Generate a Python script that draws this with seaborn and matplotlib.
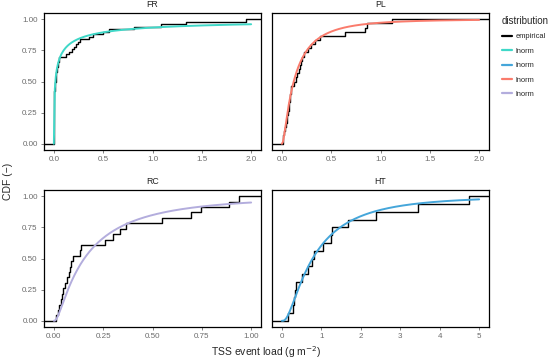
import numpy as np
import pandas as pd
import seaborn as sns
import matplotlib.pyplot as plt
from matplotlib.lines import Line2D
from math import erf, sqrt

# TSS event loads (g m-2)
fr_load = [0.0002, 0.0004, 0.0005, 0.0008, 0.001, 0.0012, 0.0013, 0.0015, 0.0018, 0.002,
           0.0021, 0.0024, 0.0026, 0.0028, 0.003, 0.0032, 0.0035, 0.0037, 0.004, 0.0043,
           0.005, 0.007, 0.009, 0.011, 0.014, 0.017, 0.02, 0.023, 0.026, 0.03,
           0.034, 0.038, 0.043, 0.048, 0.054, 0.12, 0.15, 0.18, 0.20, 0.225,
           0.24, 0.26, 0.36, 0.40, 0.50, 0.56, 0.81, 1.09, 1.34, 1.95]
pl_load = [0.008, 0.015, 0.024, 0.032, 0.04, 0.048, 0.056, 0.065, 0.07, 0.075,
           0.08, 0.085, 0.09, 0.093, 0.12, 0.14, 0.155, 0.17, 0.18, 0.19,
           0.2, 0.225, 0.26, 0.3, 0.34, 0.385, 0.64, 0.84, 0.86, 1.116]
rc_load = [0.013, 0.020, 0.027, 0.034, 0.041, 0.047, 0.058, 0.068, 0.075, 0.081,
           0.088, 0.097, 0.135, 0.137, 0.258, 0.30, 0.334, 0.368, 0.547, 0.695,
           0.747, 0.886, 0.94]
ht_load = [0.16, 0.28, 0.31, 0.34, 0.36, 0.52, 0.67, 0.77, 0.82, 1.05,
           1.24, 1.26, 1.67, 2.39, 3.44, 4.75]

sites = ["FR", "PL", "RC", "HT"]
loads = {"FR": fr_load, "PL": pl_load, "RC": rc_load, "HT": ht_load}
x_max = {"FR": 2.0, "PL": 2.0, "RC": 1.0, "HT": 5.0}

# fitted lognormal parameters
meanlog = {"FR": -4.2, "PL": -2.12, "RC": -1.87, "HT": -0.25}
sdlog = {"FR": 2.8, "PL": 1.11, "RC": 1.14, "HT": 0.95}

ticks = {"FR": [0, 0.5, 1.0, 1.5, 2.0], "PL": [0, 0.5, 1.0, 1.5, 2.0],
         "RC": [0, 0.25, 0.5, 0.75, 1.0], "HT": [0, 1, 2, 3, 4, 5]}
tick_fmt = {"FR": "{:.1f}", "PL": "{:.1f}", "RC": "{:.2f}", "HT": "{:.0f}"}
colors = {"FR": "#3fd8c8", "HT": "#45a6da", "PL": "#fa7b6c", "RC": "#b3addd"}


def lnorm_cdf(x, mu, s):
    out = []
    for v in x:
        if v <= 0:
            out.append(0.0)
        else:
            out.append(0.5 * (1 + erf((np.log(v) - mu) / (s * sqrt(2)))))
    return np.array(out)


sns.set_style("white")
plt.rcParams["font.family"] = ["Liberation Sans", "DejaVu Sans"]

fig = plt.figure(figsize=(5.5, 3.62), dpi=100)
W, H = 550, 362
boxes = {"FR": (44, 13), "PL": (272, 13), "RC": (44, 190), "HT": (272, 190)}
pw, ph = 217, 137

tick_col = "#6b6b6b"
for site in sites:
    x0, y0 = boxes[site]
    ax = fig.add_axes([x0 / W, 1 - (y0 + ph) / H, pw / W, ph / H])
    xm = x_max[site]
    lo, hi = -0.05 * xm, 1.05 * xm

    data = np.array(loads[site])
    sns.ecdfplot(x=data, ax=ax, color="black", lw=1.0, zorder=2)
    ax.hlines(0, lo, data.min(), color="black", lw=1.0, zorder=2)
    ax.hlines(1, data.max(), hi, color="black", lw=1.0, zorder=2)

    grid = np.linspace(0, xm, 201)
    curve = pd.DataFrame({"x": grid, "F": lnorm_cdf(grid, meanlog[site], sdlog[site])})
    sns.lineplot(data=curve, x="x", y="F", ax=ax, color=colors[site], lw=1.4, zorder=3)

    ax.set_xlim(lo, hi)
    ax.set_ylim(-0.05, 1.05)
    ax.set_xticks(ticks[site])
    ax.set_xticklabels([tick_fmt[site].format(t) for t in ticks[site]])
    if site in ("FR", "RC"):
        ax.set_yticks([0, 0.25, 0.5, 0.75, 1.0])
        ax.set_yticklabels(["0.00", "0.25", "0.50", "0.75", "1.00"])
    else:
        ax.set_yticks([])
    ax.tick_params(axis="both", which="both", direction="out", length=2.5, width=0.6,
                   color=tick_col, labelcolor=tick_col, labelsize=5.8, pad=2,
                   bottom=True, left=site in ("FR", "RC"))
    for sp in ax.spines.values():
        sp.set_visible(True)
        sp.set_color("black")
        sp.set_linewidth(0.9)
    ax.set_xlabel("")
    ax.set_ylabel("")
    ax.set_title(site, fontsize=6.3, color="#222222", pad=4)

fig.text(8 / W, 0.5, "CDF (\u2212)", rotation=90, va="center", ha="center", fontsize=7.5)
fig.text(266 / W, 1 - 352 / H, "TSS event load (g m$^{-2}$)", ha="center", va="center",
         fontsize=7.5)

handles = [Line2D([], [], color="black", lw=1.6)]
labels = ["empirical"]
for site in ["FR", "HT", "PL", "RC"]:
    handles.append(Line2D([], [], color=colors[site], lw=1.6))
    labels.append("lnorm")
leg = fig.legend(handles, labels, title="distribution", loc="upper left",
                 bbox_to_anchor=(496 / W, 1 - 10 / H), frameon=False, fontsize=5.4,
                 title_fontsize=7.0, handlelength=1.3, handletextpad=0.5,
                 labelspacing=0.95, borderpad=0.3)
leg._legend_box.align = "left"

fig.savefig("out.png", dpi=100)
